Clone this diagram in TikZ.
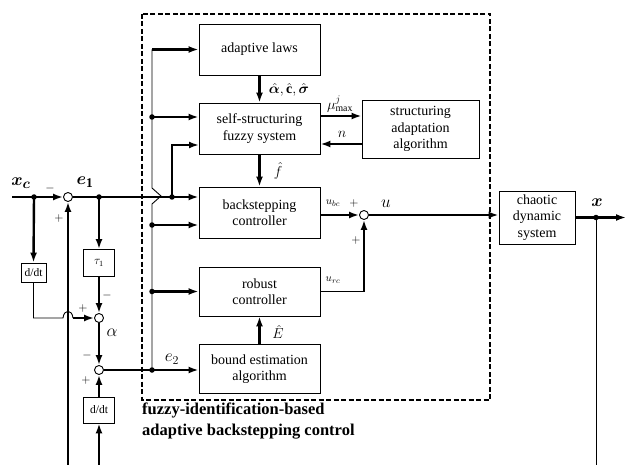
\documentclass[tikz,border=0pt]{standalone}
\usepackage{amsmath,bm}
\usepackage{fontspec}
\setmainfont{Liberation Serif}
\usetikzlibrary{arrows.meta}
\begin{document}
\begin{tikzpicture}[x=1pt,y=-1pt,
  blk/.style={draw,line width=0.9pt,align=center,inner sep=1pt,font=\fontsize{14}{16.5}\selectfont},
  smallblk/.style={draw,line width=0.9pt,align=center,inner sep=1pt,font=\fontsize{11.5}{13}\selectfont},
  sumj/.style={draw,circle,line width=0.9pt,minimum size=9pt,inner sep=0pt,fill=white},
  thk/.style={line width=2.4pt},
  thn/.style={line width=0.9pt},
  arr/.style={-{Latex[length=10pt,width=7pt]}},
  dot/.style={circle,fill=black,inner sep=0pt,minimum size=5.5pt},
  lbl/.style={inner sep=0pt},
  sgn/.style={inner sep=0pt,font=\fontsize{13}{13}\selectfont}]
\useasboundingbox (0,0) rectangle (626,465);
% dashed frame
\draw[line width=2.2pt,dash pattern=on 5pt off 2.5pt] (142,14) rectangle (490,400);
% blocks
\node[blk,minimum width=121,minimum height=51] (al) at (259.5,49.5) {adaptive laws};
\node[blk,minimum width=121,minimum height=51] (ss) at (259.5,128.5) {self-structuring\\fuzzy system};
\node[blk,minimum width=121,minimum height=51] (bc) at (259.5,212.5) {backstepping\\controller};
\node[blk,minimum width=121,minimum height=49] (rc) at (259.5,291.5) {robust\\controller};
\node[blk,minimum width=121,minimum height=49] (be) at (259.5,369) {bound estimation\\algorithm};
\node[blk,minimum width=117,minimum height=58] (sa) at (420.5,129) {structuring\\adaptation\\algorithm};
\node[blk,minimum width=76,minimum height=53] (cds) at (537,217.5) {chaotic\\dynamic\\system};
\node[smallblk,minimum width=25,minimum height=19] (dd1) at (33.5,272.5) {d/dt};
\node[smallblk,minimum width=31,minimum height=27] (tau) at (99,263) {$\tau_1$};
\node[smallblk,minimum width=31,minimum height=26] (dd2) at (99,410) {d/dt};
% summing junctions
\node[sumj] (s1) at (68,197) {};
\node[sumj] (sal) at (99,318) {};
\node[sumj] (s2) at (99,370) {};
\node[sumj] (su) at (364,215) {};
% coordinates
\coordinate (xcs) at (12,197);
\coordinate (d1) at (34,197);
\coordinate (e1d) at (99,197);
\coordinate (e1b) at (172,197);
\coordinate (btop) at (152,49.5);
\coordinate (b2) at (152,117);
\coordinate (b3) at (152,225);
\coordinate (b4) at (152,291.5);
\coordinate (b5) at (152,370);
\coordinate (ssin2) at (199,145);
\coordinate (ddc) at (33.5,318);
\coordinate (hop1) at (63,318);
\coordinate (hop2) at (73,318);
\coordinate (bot1) at (68,465);
\coordinate (bot2) at (99,465);
\coordinate (xd) at (596,217.5);
\coordinate (xend) at (626,217.5);
\coordinate (xbot) at (596,465);
\coordinate (rcc) at (364,291.5);
% left part
\draw[thk,arr] (xcs) -- (s1);
\draw[thk,arr] (d1) -- (dd1.north);
\draw[thn] (dd1.south) -- (ddc) -- (hop1) .. controls (64,309) and (72,309) .. (hop2);
\draw[thk,arr] (hop2) -- (sal.west);
\draw[thk,arr] (bot1) -- (s1.south);
\draw[thk,arr] (s1.east) -- (bc.west |- e1b);
\draw[thk,arr] (e1d) -- (tau.north);
\draw[thk,arr] (tau.south) -- (sal.north);
\draw[thk,arr] (sal.south) -- (s2.north);
\draw[thk,arr] (dd2.north) -- (s2.south);
\draw[thk,arr] (bot2) -- (dd2.south);
\draw[thk,arr] (s2.east) -- (be.west |- s2);
% bus
\draw[thn] (btop) -- (152,188) -- (161,196) -- (152,204) -- (b5);
\draw[thk,arr] (btop) -- (al.west);
\draw[thk,arr] (b2) -- (ss.west |- b2);
\draw[thk,arr] (b3) -- (bc.west |- b3);
\draw[thk,arr] (b4) -- (rc.west);
\draw[thk,arr] (e1b) |- (ssin2);
% inside
\draw[thk,arr] (al.south) -- (ss.north);
\draw[thk,arr] (ss.east |- 0,116) -- (sa.west |- 0,116);
\draw[thk,arr] (sa.west |- 0,144) -- (ss.east |- 0,144);
\draw[thk,arr] (ss.south) -- (bc.north);
\draw[thk,arr] (bc.east |- su) -- (su.west);
\draw[thk,arr] (be.north) -- (rc.south);
\draw[thn] (rc.east) -- (rcc);
\draw[thk,arr] (rcc) -- (su.south);
\draw[thk,arr] (su.east) -- (cds.west |- su);
\draw[thk,arr] (cds.east |- xd) -- (xend);
\draw[thn] (xd) -- (xbot);
% dots
\foreach \p in {d1,e1d,e1b,b2,b3,b4,b5,xd} \node[dot] at (\p) {};
% labels
\node[lbl,font=\fontsize{19}{19}\selectfont] at (21,183) {$\bm{x}_{\bm c}$};
\node[lbl,font=\fontsize{19}{19}\selectfont] at (85,182) {$\bm{e}_{\mathbf 1}$};
\node[lbl,font=\fontsize{18}{18}\selectfont] at (172,359) {$e_2$};
\node[lbl,font=\fontsize{18}{18}\selectfont] at (112,333) {$\alpha$};
\node[lbl,font=\fontsize{17}{17}\selectfont] at (597,203) {$\bm{x}$};
\node[lbl,font=\fontsize{16}{16}\selectfont] at (386,204) {$u$};
\node[lbl,font=\fontsize{11}{11}\selectfont] at (333,203) {$u_{bc}$};
\node[lbl,font=\fontsize{11}{11}\selectfont] at (333,280) {$u_{rc}$};
\node[lbl,font=\fontsize{14}{14}\selectfont] at (289,90) {$\hat{\bm\alpha},\hat{\mathbf c},\hat{\bm\sigma}$};
\node[lbl,font=\fontsize{14}{14}\selectfont] at (340,104) {$\mu^{j}_{\max}$};
\node[lbl,font=\fontsize{15}{15}\selectfont] at (342,134) {$n$};
\node[lbl,font=\fontsize{15}{15}\selectfont] at (278,171) {$\hat f$};
\node[lbl,font=\fontsize{15}{15}\selectfont] at (278,332) {$\hat E$};
\node[sgn] at (50,189) {$-$};
\node[sgn] at (59,219) {$+$};
\node[sgn] at (354,204) {$+$};
\node[sgn] at (356,240) {$+$};
\node[sgn] at (107,295) {$-$};
\node[sgn] at (83,308) {$+$};
\node[sgn] at (87,355) {$-$};
\node[sgn] at (86,380) {$+$};
\node[anchor=north west,align=left,inner sep=0pt,font=\fontsize{16.5}{21}\selectfont\bfseries] (cap) at (142,403) {fuzzy-identification-based\\adaptive backstepping control};
\end{tikzpicture}
\end{document}
